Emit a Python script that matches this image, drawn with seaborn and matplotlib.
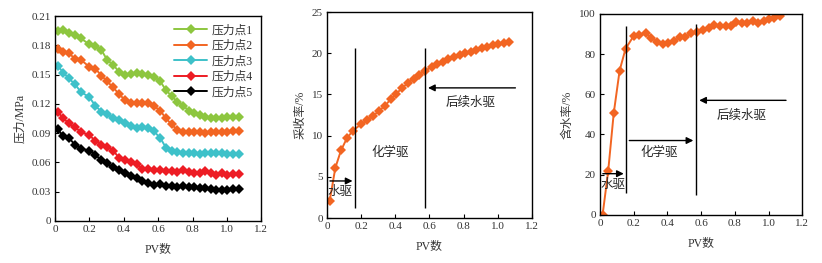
import numpy as np
import pandas as pd
import seaborn as sns
import matplotlib.pyplot as plt

# ========= DATA =========
pv = [0.015, 0.048, 0.081, 0.116, 0.151, 0.199, 0.234, 0.270, 0.303, 0.337,
      0.372, 0.406, 0.440, 0.474, 0.507, 0.540, 0.574, 0.612, 0.645, 0.678,
      0.711, 0.745, 0.778, 0.808, 0.842, 0.874, 0.905, 0.937, 0.970, 1.000,
      1.034, 1.068]

p1 = [0.195, 0.196, 0.193, 0.191, 0.187, 0.181, 0.179, 0.175, 0.165, 0.160,
      0.153, 0.150, 0.151, 0.152, 0.151, 0.150, 0.148, 0.143, 0.134, 0.128,
      0.122, 0.118, 0.113, 0.111, 0.109, 0.107, 0.106, 0.106, 0.106, 0.107,
      0.107, 0.107]
p2 = [0.176, 0.173, 0.172, 0.166, 0.165, 0.158, 0.156, 0.149, 0.143, 0.137,
      0.130, 0.124, 0.121, 0.121, 0.121, 0.121, 0.118, 0.113, 0.105, 0.099,
      0.093, 0.091, 0.091, 0.091, 0.091, 0.090, 0.091, 0.091, 0.091, 0.091,
      0.092, 0.092]
p3 = [0.159, 0.152, 0.146, 0.140, 0.132, 0.127, 0.118, 0.112, 0.110, 0.105,
      0.103, 0.100, 0.097, 0.095, 0.096, 0.095, 0.092, 0.085, 0.075, 0.072,
      0.071, 0.070, 0.070, 0.070, 0.069, 0.070, 0.070, 0.070, 0.070, 0.069,
      0.069, 0.069]
p4 = [0.112, 0.105, 0.100, 0.096, 0.091, 0.088, 0.082, 0.078, 0.076, 0.072,
      0.065, 0.062, 0.060, 0.058, 0.053, 0.053, 0.052, 0.052, 0.051, 0.051,
      0.050, 0.052, 0.050, 0.049, 0.049, 0.051, 0.049, 0.047, 0.049, 0.047,
      0.048, 0.048]
p5 = [0.094, 0.087, 0.085, 0.078, 0.074, 0.072, 0.068, 0.062, 0.059, 0.055,
      0.052, 0.049, 0.046, 0.044, 0.041, 0.039, 0.037, 0.038, 0.036, 0.036,
      0.035, 0.036, 0.035, 0.035, 0.034, 0.034, 0.033, 0.032, 0.032, 0.032,
      0.033, 0.033]
pressure_names = ["压力点1", "压力点2", "压力点3", "压力点4", "压力点5"]

recovery = [2.1, 6.1, 8.2, 9.7, 10.6, 11.4, 11.9, 12.4, 13.0, 13.6,
            14.4, 15.1, 15.8, 16.4, 16.9, 17.4, 17.9, 18.3, 18.7, 19.0,
            19.3, 19.6, 19.8, 20.0, 20.2, 20.4, 20.6, 20.8, 21.0, 21.1,
            21.2, 21.4]

watercut = [0.0, 21.6, 50.5, 71.8, 82.6, 89.0, 89.5, 90.4, 88.0, 86.2,
            85.0, 85.7, 86.4, 88.7, 88.7, 90.4, 90.9, 92.0, 92.9, 94.5,
            94.2, 94.0, 94.0, 95.8, 95.4, 95.4, 96.5, 95.7, 96.5, 97.3,
            98.2, 99.0]

xticks = [0, 0.2, 0.4, 0.6, 0.8, 1.0, 1.2]
xticklabels = ["0", "0.2", "0.4", "0.6", "0.8", "1.0", "1.2"]

# ========= STYLE =========
sns.set_style("ticks")
plt.rcParams["font.family"] = ["Liberation Serif", "Noto Sans CJK SC"]
plt.rcParams["axes.unicode_minus"] = False
txt_col = "#333333"
line_col = "#f26522"
colors = ["#8dc63f", "#f26522", "#3ec1c9", "#ed1c24", "#000000"]

fig = plt.figure(figsize=(8.22, 2.63), dpi=100)
ax1 = fig.add_axes([0.067, 0.160, 0.251, 0.779])
ax2 = fig.add_axes([0.398, 0.171, 0.249, 0.783])
ax3 = fig.add_axes([0.730, 0.183, 0.246, 0.764])


def style_axis(ax):
    for s in ax.spines.values():
        s.set_visible(True)
        s.set_color("black")
        s.set_linewidth(1.0)
    ax.tick_params(direction="in", length=3, width=0.8, labelsize=8,
                   colors="black", labelcolor=txt_col, pad=3)
    ax.set_xlim(0, 1.2)
    ax.set_xticks(xticks)
    ax.set_xticklabels(xticklabels)
    ax.set_xlabel("PV数", fontsize=8.5, color=txt_col, labelpad=7)


mk = dict(marker="D", markersize=4.8, markeredgewidth=0)

# ========= PANEL 1: pressure =========
df1 = pd.DataFrame({"pv": pv * 5,
                    "p": p1 + p2 + p3 + p4 + p5,
                    "name": sum([[n] * len(pv) for n in pressure_names], [])})
sns.lineplot(data=df1, x="pv", y="p", hue="name", palette=colors,
             linewidth=1.4, ax=ax1, **mk)
style_axis(ax1)
ax1.set_ylim(0, 0.21)
ax1.set_yticks([0, 0.03, 0.06, 0.09, 0.12, 0.15, 0.18, 0.21])
ax1.set_yticklabels(["0", "0.03", "0.06", "0.09", "0.12", "0.15", "0.18", "0.21"])
ax1.set_ylabel("压力/MPa", fontsize=8.5, color=txt_col, labelpad=4)
leg = ax1.legend(loc="upper right", frameon=False, fontsize=8.5,
                 handlelength=2.8, labelspacing=0.3, borderaxespad=0.3,
                 handletextpad=0.4)
for t in leg.get_texts():
    t.set_color(txt_col)

# ========= PANEL 2: recovery =========
sns.lineplot(x=pv, y=recovery, color=line_col, linewidth=1.4, ax=ax2, **mk)
style_axis(ax2)
ax2.set_ylim(0, 25)
ax2.set_yticks([0, 5, 10, 15, 20, 25])
ax2.set_ylabel("采收率/%", fontsize=8.5, color=txt_col, labelpad=4)
ax2.vlines([0.165, 0.573], 1.2, 20.7, color="black", linewidth=1.0)
arrow = dict(arrowstyle="-|>", color="black", lw=1.0, mutation_scale=10)
ax2.annotate("", xy=(0.165, 4.5), xytext=(0.0, 4.5), arrowprops=arrow)
ax2.annotate("", xy=(0.575, 15.8), xytext=(1.12, 15.8), arrowprops=arrow)
ax2.text(0.075, 3.2, "水驱", fontsize=9, ha="center", va="center")
ax2.text(0.37, 7.9, "化学驱", fontsize=9, ha="center", va="center")
ax2.text(0.84, 14.0, "后续水驱", fontsize=9, ha="center", va="center")

# ========= PANEL 3: water cut =========
sns.lineplot(x=pv, y=watercut, color=line_col, linewidth=1.4, ax=ax3, **mk)
style_axis(ax3)
ax3.set_ylim(0, 100)
ax3.set_yticks([0, 20, 40, 60, 80, 100])
ax3.set_ylabel("含水率/%", fontsize=8.5, color=txt_col, labelpad=4)
ax3.vlines([0.155], 11, 94, color="black", linewidth=1.0)
ax3.vlines([0.57], 10, 95, color="black", linewidth=1.0)
ax3.annotate("", xy=(0.157, 20.5), xytext=(0.0, 20.5), arrowprops=arrow)
ax3.annotate("", xy=(0.57, 37), xytext=(0.157, 37), arrowprops=arrow)
ax3.annotate("", xy=(0.572, 57), xytext=(1.12, 57), arrowprops=arrow)
ax3.text(0.075, 15, "水驱", fontsize=9, ha="center", va="center")
ax3.text(0.35, 31, "化学驱", fontsize=9, ha="center", va="center")
ax3.text(0.84, 49.5, "后续水驱", fontsize=9, ha="center", va="center")

fig.savefig("out.png", dpi=100)
